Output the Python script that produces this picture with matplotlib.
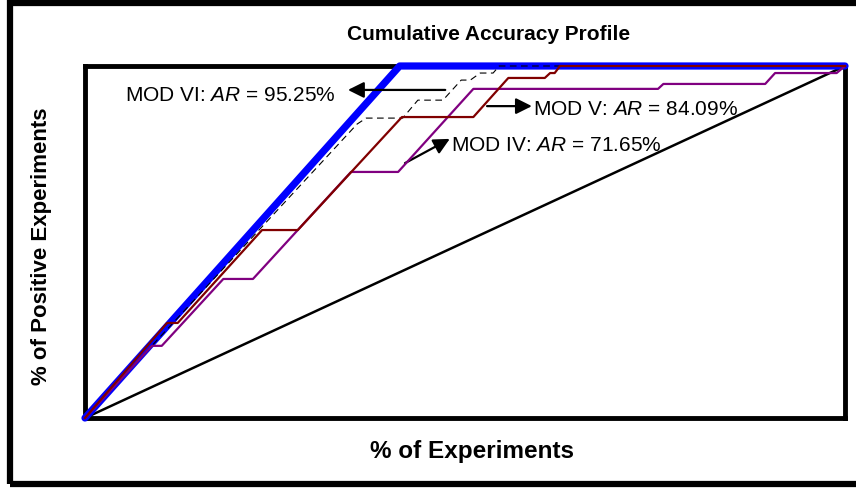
import matplotlib
matplotlib.use("Agg")
import matplotlib.pyplot as plt
from matplotlib.patches import Rectangle

plt.rcParams['font.family'] = ['Liberation Sans', 'DejaVu Sans']
plt.rcParams['mathtext.fontset'] = 'custom'
plt.rcParams['mathtext.rm'] = 'Liberation Sans'
plt.rcParams['mathtext.it'] = 'Liberation Sans:italic'

x_perfeito = [0, 41.4, 100]
y_perfeito = [0, 100, 100]

x_aleatorio = [0, 100]
y_aleatorio = [0, 100]

x_mod6 = [0, 35.8, 37.0, 41.8, 43.8, 47.1, 49.5, 50.7, 52.0, 53.7, 54.5, 100]
y_mod6 = [0, 83.5, 85.2, 85.2, 90.3, 90.3, 96.0, 96.0, 98.0, 98.0, 100, 100]

x_mod5 = [0, 10.8, 12.2, 23.3, 28.0, 41.7, 51.1, 55.7, 60.5, 61.2, 61.8, 62.5, 100]
y_mod5 = [0, 27.0, 27.0, 53.4, 53.4, 85.5, 85.5, 96.6, 96.6, 98.0, 98.0, 100, 100]

x_mod4 = [0, 8.8, 10.1, 18.2, 22.1, 35.0, 41.2, 51.1, 75.4, 76.1, 89.5, 90.8, 98.9, 100]
y_mod4 = [0, 20.5, 20.5, 39.5, 39.5, 69.9, 69.9, 93.5, 93.5, 94.9, 94.9, 98.0, 98.0, 100]

rotulos = ["MOD VI: $AR$ = 95.25%", "MOD V: $AR$ = 84.09%", "MOD IV: $AR$ = 71.65%"]

W, H = 856, 489
fig = plt.figure(figsize=(W / 100, H / 100), dpi=100)

# moldura externa
fig.patches.append(Rectangle((10 / W, 4 / H), 1.2, (481 / H), transform=fig.transFigure,
                             fill=False, lw=4.5, ec='black', zorder=0))

ax = fig.add_axes([85 / W, (H - 419) / H, 760 / W, 352 / H])
ax.set_xlim(0, 100)
ax.set_ylim(0, 100)
ax.set_xticks([])
ax.set_yticks([])
for s in ax.spines.values():
    s.set_linewidth(3.5)
    s.set_color('black')

ax.plot(x_aleatorio, y_aleatorio, color='black', lw=1.8, zorder=2)
ax.plot(x_perfeito, y_perfeito, color='#0000FF', lw=5.2, solid_capstyle='round',
        solid_joinstyle='round', zorder=3, clip_on=False)
ax.plot(x_mod6, y_mod6, color='black', lw=0.8, dashes=(6, 4), zorder=4, clip_on=False)
ax.plot(x_mod4, y_mod4, color='#800080', lw=1.6, zorder=5, clip_on=False)
ax.plot(x_mod5, y_mod5, color='#800000', lw=1.6, zorder=6, clip_on=False)

seta = dict(arrowstyle='-|>', mutation_scale=24, lw=1.6, color='black', shrinkA=0, shrinkB=0)
ax.text(5.3, 91.8, rotulos[0], fontsize=15, va='center', ha='left')
ax.annotate('', xy=(34.6, 93.2), xytext=(47.4, 93.2), arrowprops=seta)
ax.text(59.0, 87.8, rotulos[1], fontsize=15, va='center', ha='left')
ax.annotate('', xy=(58.8, 88.6), xytext=(52.9, 88.6), arrowprops=seta)
ax.text(48.2, 77.8, rotulos[2], fontsize=15, va='center', ha='left')
ax.annotate('', xy=(48.0, 79.3), xytext=(42.1, 72.4), arrowprops=seta)

fig.text(489 / W, 1 - 35 / H, "Cumulative Accuracy Profile", fontsize=15, fontweight='bold',
         ha='center', va='center')
fig.text(472 / W, 1 - 452 / H, "% of Experiments", fontsize=17.5, fontweight='bold',
         ha='center', va='center')
fig.text(42 / W, 1 - 246 / H, "% of Positive Experiments", fontsize=16, fontweight='bold',
         ha='center', va='center', rotation=90)

fig.savefig("out.png", dpi=100)
